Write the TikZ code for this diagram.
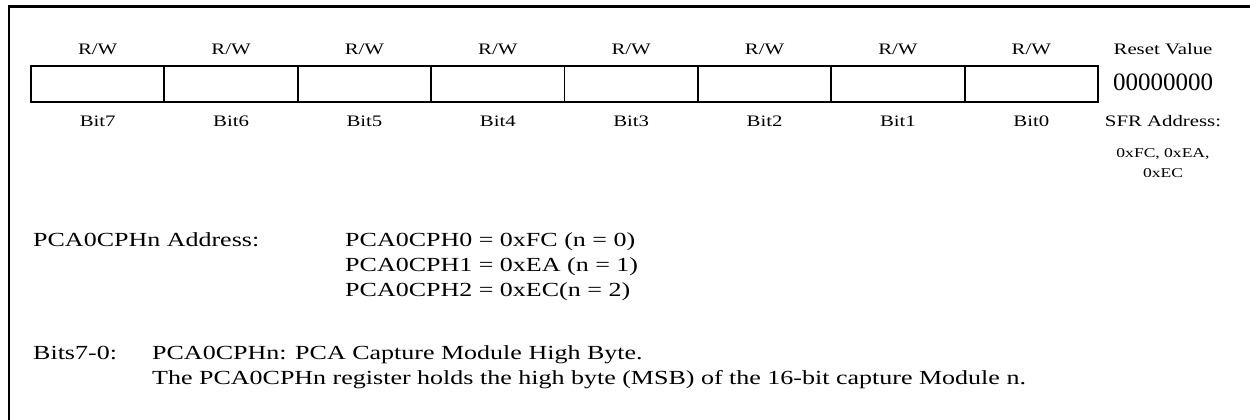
\documentclass[tikz,border=0pt]{standalone}
\usepackage{fontspec}
\setmainfont[FakeStretch=1.3]{Liberation Serif}
\newfontfamily\resetfont{Liberation Serif}
\usetikzlibrary{positioning}
\tikzset{
  bitcell/.style={draw, line width=1.8pt, minimum width=133.4pt, minimum height=36pt, inner sep=0pt},
  hdr/.style={anchor=base, inner sep=0pt, font=\fontsize{16}{19}\selectfont},
  small/.style={anchor=base, inner sep=0pt, font=\fontsize{13.5}{16}\selectfont},
  resetval/.style={anchor=base, inner sep=0pt, font=\resetfont\fontsize{25}{29}\selectfont},
  body/.style={anchor=base west, inner sep=0pt, font=\fontsize{20}{24}\selectfont}
}

\begin{document}
\begin{tikzpicture}[x=1pt,y=1pt]
  \useasboundingbox (0,0) rectangle (1250,-420);

  % frame, top and left only
  \draw[line width=3pt] (7.5,-6.5) -- (1250,-6.5);
  \draw[line width=2pt] (8.5,-5) -- (8.5,-420);

  % register cells
  \foreach \b [count=\i from 0] in {7,...,0} {
    \node[bitcell] (cell\b) at ({97.69+133.375*\i},-84) {};
    \node[hdr] (rw\b) at ({97.69+133.375*\i},-55) {R/W};
    \node[hdr] (bit\b) at ({97.69+133.375*\i},-126) {Bit\b};
  }

  \node[hdr] (rstlbl) at (1163,-55) {Reset Value};
  \node[resetval] (rstval) at (1163,-91) {00000000};
  \node[hdr] (sfrlbl) at (1163,-126) {SFR Address:};
  \node[small] (sfr1) at (1163,-157) {0xFC, 0xEA,};
  \node[small] (sfr2) at (1163,-177) {0xEC};

  % addresses
  \node[body] (addrlbl) at (33,-246) {PCA0CPHn Address:};
  \node[body] (addr0) at (345,-246) {PCA0CPH0 = 0xFC (n = 0)};
  \node[body] (addr1) at (345,-271) {PCA0CPH1 = 0xEA (n = 1)};
  \node[body] (addr2) at (345,-296) {PCA0CPH2 = 0xEC(n = 2)};

  % bit description
  \node[body] (bitslbl) at (33,-359) {Bits7-0:};
  \node[body] (desc1) at (152,-359) {PCA0CPHn: PCA Capture Module High Byte.};
  \node[body] (desc2) at (152,-384) {The PCA0CPHn register holds the high byte (MSB) of the 16-bit capture Module n.};
\end{tikzpicture}
\end{document}
